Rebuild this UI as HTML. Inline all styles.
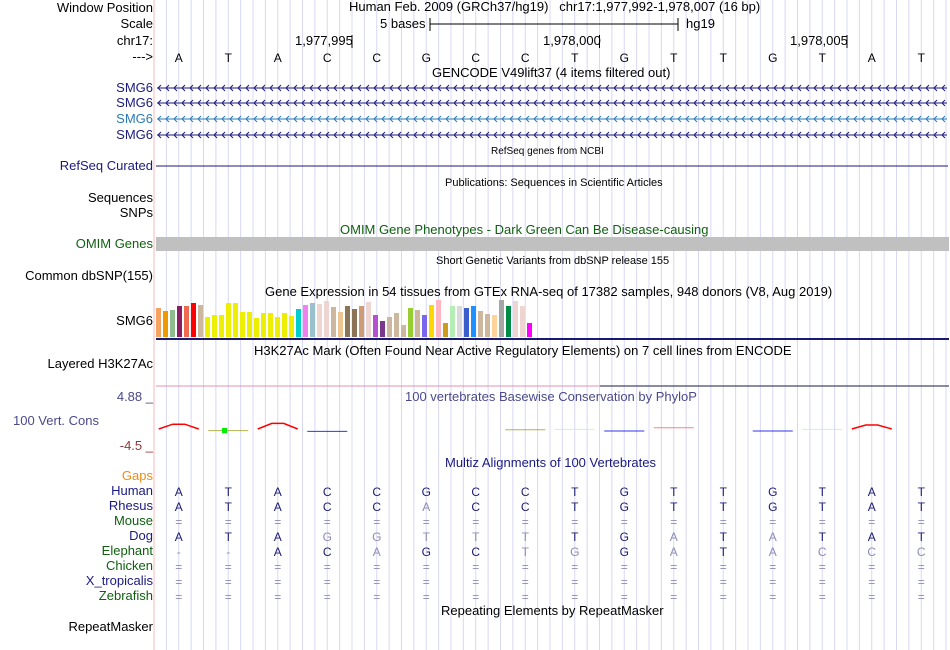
<!DOCTYPE html>
<html><head><meta charset="utf-8">
<style>
html,body{margin:0;padding:0;background:#fff;}
body{width:950px;height:650px;position:relative;overflow:hidden;font-family:"Liberation Sans",sans-serif;font-size:13px;}
.l{position:absolute;right:797px;white-space:nowrap;line-height:15px;}
.t{position:absolute;white-space:nowrap;line-height:15px;}
svg{position:absolute;left:0;top:0;}
</style></head><body>
<svg id="chart" width="950" height="650"></svg>

<div class="l" style="top:0px">Window Position</div>
<div class="l" style="top:16px">Scale</div>
<div class="l" style="top:33px">chr17:</div>
<div class="l" style="top:49px">---&gt;</div>
<div class="l" style="top:80px;color:#1a1a80">SMG6</div>
<div class="l" style="top:95px;color:#1a1a80">SMG6</div>
<div class="l" style="top:111px;color:#2a7ab8">SMG6</div>
<div class="l" style="top:127px;color:#1a1a80">SMG6</div>
<div class="l" style="top:158px;color:#1a1a80">RefSeq Curated</div>
<div class="l" style="top:190px">Sequences</div>
<div class="l" style="top:205px">SNPs</div>
<div class="l" style="top:236px;color:#106010">OMIM Genes</div>
<div class="l" style="top:268px">Common dbSNP(155)</div>
<div class="l" style="top:313px">SMG6</div>
<div class="l" style="top:356px">Layered H3K27Ac</div>
<div class="l" style="top:389px;color:#4a4a8c">4.88 _</div>
<div class="t" style="left:13px;top:413px;color:#4a4a8c">100 Vert. Cons</div>
<div class="l" style="top:438px;color:#8b3a3a">-4.5 _</div>
<div class="l" style="top:468px;color:#f08c10">Gaps</div>
<div class="l" style="top:483px;color:#1a1a80">Human</div>
<div class="l" style="top:498px;color:#1a1a80">Rhesus</div>
<div class="l" style="top:513px;color:#106010">Mouse</div>
<div class="l" style="top:528px;color:#1a1a80">Dog</div>
<div class="l" style="top:543px;color:#106010">Elephant</div>
<div class="l" style="top:558px;color:#106010">Chicken</div>
<div class="l" style="top:573px;color:#1a1a80">X_tropicalis</div>
<div class="l" style="top:588px;color:#106010">Zebrafish</div>
<div class="l" style="top:619px">RepeatMasker</div>

<div class="t" style="left:349px;top:-1px">Human Feb. 2009 (GRCh37/hg19)&nbsp;&nbsp;&nbsp;chr17:1,977,992-1,978,007 (16 bp)</div>
<div class="t" style="left:380px;top:16px">5 bases</div>
<div class="t" style="left:686px;top:16px">hg19</div>
<div class="t" style="left:295px;top:33px">1,977,995</div>
<div class="t" style="left:543px;top:33px">1,978,000</div>
<div class="t" style="left:790px;top:33px">1,978,005</div>
<div class="t" style="left:432px;top:65px">GENCODE V49lift37 (4 items filtered out)</div>
<div class="t" style="left:491px;top:144px;font-size:10px">RefSeq genes from NCBI</div>
<div class="t" style="left:445px;top:176px;font-size:11px">Publications: Sequences in Scientific Articles</div>
<div class="t" style="left:340px;top:222px;color:#106010">OMIM Gene Phenotypes - Dark Green Can Be Disease-causing</div>
<div class="t" style="left:436px;top:254px;font-size:11px">Short Genetic Variants from dbSNP release 155</div>
<div class="t" style="left:265px;top:284px">Gene Expression in 54 tissues from GTEx RNA-seq of 17382 samples, 948 donors (V8, Aug 2019)</div>
<div class="t" style="left:254px;top:343px">H3K27Ac Mark (Often Found Near Active Regulatory Elements) on 7 cell lines from ENCODE</div>
<div class="t" style="left:405px;top:389px;color:#4a4a8c">100 vertebrates Basewise Conservation by PhyloP</div>
<div class="t" style="left:445px;top:455px;color:#1a1a80">Multiz Alignments of 100 Vertebrates</div>
<div class="t" style="left:441px;top:603px">Repeating Elements by RepeatMasker</div>

<script>
const bases = ["A","T","A","C","C","G","C","C","T","G","T","T","G","T","A","T"];
const species = ["Human","Rhesus","Mouse","Dog","Elephant","Chicken","X_tropicalis","Zebrafish"];
const alignHuman  = ["A","T","A","C","C","G","C","C","T","G","T","T","G","T","A","T"];
const alignRhesus = ["A","T","A","C","C","a","C","C","T","G","T","T","G","T","A","T"];
const alignMouse  = ["=","=","=","=","=","=","=","=","=","=","=","=","=","=","=","="];
const alignDog    = ["A","T","A","g","g","t","t","t","T","G","a","T","a","T","A","T"];
const alignEleph  = ["-","-","A","C","a","G","C","t","g","G","a","T","a","c","c","c"];
const alignChick  = ["=","=","=","=","=","=","=","=","=","=","=","=","=","=","=","="];
const alignXtrop  = ["=","=","=","=","=","=","=","=","=","=","=","=","=","=","=","="];
const alignZebra  = ["=","=","=","=","=","=","=","=","=","=","=","=","=","=","=","="];
const gtexValues = [29,26,27,31,31,34,32,20,22,22,34,34,25,25,19,24,24,20,24,21,28,32,34,33,36,30,25,31,28,31,35,22,16,20,24,12,29,27,22,32,37,14,31,31,29,31,26,23,22,37,31,36,31,14];
const gtexColors = ["#f4a460","#ee9a00","#8fbc8f","#8b1c62","#ee6a50","#ff0000","#cdb79e","#eeee00","#eeee00","#eeee00","#eeee00","#eeee00","#eeee00","#eeee00","#eeee00","#eeee00","#eeee00","#eeee00","#eeee00","#eeee00","#00cdcd","#ee82ee","#9ac0cd","#eed5d2","#eed5d2","#cdb79e","#eec591","#8b7355","#8b7355","#cd9b76","#eed5d2","#b452cd","#7a378b","#cdb79e","#cdb79e","#cdb79e","#9acd32","#cdb79e","#7a67ee","#ffd700","#ffb6c1","#cd9b1d","#b4eeb4","#d9d9d9","#3a5fcd","#1e90ff","#cdb79e","#cdb79e","#ffd39b","#a6a6a6","#008b45","#eed5d2","#eed5d2","#ff00ff"];
const consBases  = [0,1,2,3,7,8,9,10,12,13,14];
const consValues = [1.2,-0.4,1.4,-0.6,-0.2,-0.1,-0.5,0.3,-0.5,-0.1,1.0];
const consColors = ["#ff0000","#a0a020","#ff0000","#0000ee","#a0a020","#c0f0c0","#0000ee","#ff6060","#0000ee","#c0f0c0","#ff0000"];

const NS="http://www.w3.org/2000/svg";
const svg=document.getElementById('chart');
const X0=154, BW=49.5;
const xBase=i=>X0+BW*(i+0.5);
function mk(tag,attrs,parent){const e=document.createElementNS(NS,tag);for(const k in attrs)e.setAttribute(k,attrs[k]);(parent||svg).appendChild(e);return e;}

for(let k=1;k<=64;k++){
  const g=mk('line',{x1:X0+k*12.375,x2:X0+k*12.375,y1:0,y2:650,stroke:'#d8d8f4','stroke-width':1});
  
  
}
let e=mk('line',{x1:X0,x2:X0,y1:0,y2:650,stroke:'#f8b8b8','stroke-width':1});



mk('line',{x1:430,x2:678,y1:24,y2:24,stroke:'#000'});
mk('line',{x1:430,x2:430,y1:18,y2:31,stroke:'#000'});
mk('line',{x1:678,x2:678,y1:18,y2:31,stroke:'#000'});
[3,8,13].forEach(i=>{mk('line',{x1:X0+BW*(i+1),x2:X0+BW*(i+1),y1:35,y2:48,stroke:'#000'});});

bases.forEach((b,i)=>{
  const t=mk('text',{x:xBase(i),y:62,'text-anchor':'middle','font-size':12,'font-family':'Liberation Sans'});
  t.textContent=b;
  
  
});

[[88,'#1a1a80'],[103,'#1a1a80'],[119,'#2a7ab8'],[135,'#1a1a80']].forEach(([y,c],r)=>{
  const g=mk('g',{stroke:c,'stroke-width':1,fill:'none'});
  
  
  mk('line',{x1:157,x2:947,y1:y,y2:y},g);
  for(let x=158;x<946;x+=8){mk('polyline',{points:`${x+3},${y-3} ${x},${y} ${x+3},${y+3}`},g);}
});
e=mk('line',{x1:156,x2:948,y1:166,y2:166,stroke:'#1a1a80'});


e=mk('rect',{x:156,y:237,width:793,height:14,fill:'#c0c0c0'});



const gBase=337, gScale=1;
gtexValues.forEach((v,i)=>{
  const r=mk('rect',{x:156+i*7,y:gBase-v*gScale,width:5,height:v*gScale,fill:gtexColors[i]});
  
  
});
mk('line',{x1:156,x2:949,y1:339,y2:339,stroke:'#1a1a70','stroke-width':2});
mk('line',{x1:156,x2:600,y1:386,y2:386,stroke:'#e090b0'});
mk('line',{x1:600,x2:949,y1:386,y2:386,stroke:'#1a1a40'});

const cZero=429, cScale=4;
consBases.forEach((b,i)=>{
  const v=consValues[i], x=xBase(b), y=cZero-v*cScale, c=consColors[i];
  let el;
  if(v>0.8){el=mk('polyline',{points:`${x-20},${cZero} ${x-6},${y} ${x+6},${y} ${x+20},${cZero}`,stroke:c,'stroke-width':1.5,fill:'none'});}
  else {el=mk('line',{x1:x-20,x2:x+20,y1:y,y2:y,stroke:c,'stroke-width':1,'stroke-opacity':0.8});}
  
  
});
e=mk('rect',{x:222,y:428,width:5,height:5,fill:'#00ee00'});



const rows=[alignHuman,alignRhesus,alignMouse,alignDog,alignEleph,alignChick,alignXtrop,alignZebra];
rows.forEach((row,r)=>{
  row.forEach((c,i)=>{
    const light=(c===c.toLowerCase());
    const t=mk('text',{x:xBase(i),y:496+r*15,'text-anchor':'middle','font-size':12,'font-family':'Liberation Sans',fill:light?'#8c8cb4':'#1a1a70'});
    t.textContent=c.toUpperCase();
    
    
  });
});
</script>
</body></html>
